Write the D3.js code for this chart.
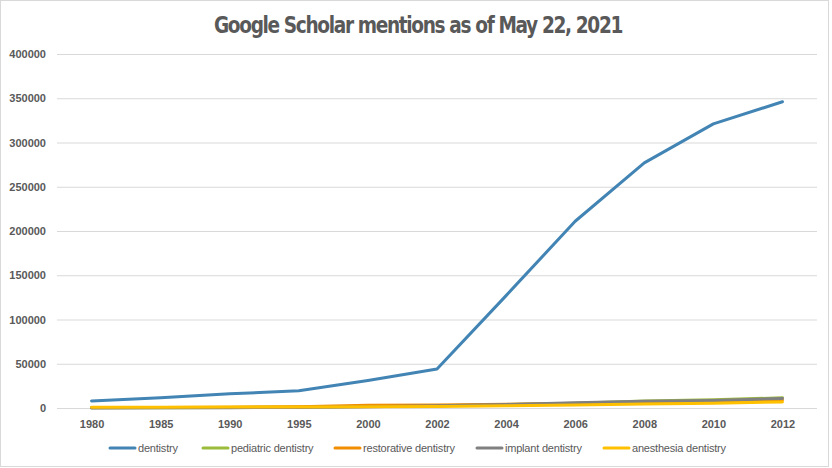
<!DOCTYPE html>
<html>
<head>
<meta charset="utf-8">
<script src="https://cdn.jsdelivr.net/npm/d3@7"></script>
<style>
  body { margin: 0; background: #fff; }
  text { font-family: "Liberation Sans", Arial, sans-serif; fill: #595959; }
</style>
</head>
<body>
<svg id="chart" width="832" height="468"></svg>
<script>
// chart data
var years = ["1980", "1985", "1990", "1995", "2000", "2002", "2004", "2006", "2008", "2010", "2012"];
var seriesNames = ["dentistry", "pediatric dentistry", "restorative dentistry", "implant dentistry", "anesthesia dentistry"];
var seriesColors = ["#4284b4", "#9bbb3b", "#f18d00", "#808080", "#ffc000"];
var dentistry = [8000, 11500, 16000, 19500, 31000, 44000, 127000, 211000, 277000, 321000, 346000];
var pediatric = [300, 400, 600, 1000, 1800, 2500, 3800, 5500, 7800, 9200, 11500];
var restorative = [500, 600, 800, 1500, 3000, 3500, 4200, 5000, 6500, 7500, 9000];
var implant = [100, 150, 300, 700, 1500, 2500, 4000, 5800, 7500, 8500, 10800];
var anesthesia = [800, 900, 1000, 1200, 1500, 1800, 2500, 3300, 4500, 5500, 6800];
var yTicks = [0, 50000, 100000, 150000, 200000, 250000, 300000, 350000, 400000];

var allSeries = [dentistry, pediatric, restorative, implant, anesthesia];

var svg = d3.select("#chart");
var W = 832, H = 468;
var plot = {left: 57, right: 817, top: 54, bottom: 408};

// outer chart border
svg.append("rect")
	.attr("x", 0.5).attr("y", 0.5)
	.attr("width", W - 4).attr("height", H - 2)
	.attr("fill", "#fff")
	.attr("stroke", "#d9d9d9");

var x = d3.scalePoint()
	.domain(years)
	.range([plot.left, plot.right])
	.padding(0.5);

var y = d3.scaleLinear()
	.domain([0, 400000])
	.range([plot.bottom, plot.top]);

// gridlines + y labels
var yAxis = d3.axisLeft(y)
	.tickValues(yTicks)
	.tickSize(-(plot.right - plot.left))
	.tickPadding(11)
	.tickFormat(d3.format("d"));
var gy = svg.append("g")
	.attr("transform", "translate(" + plot.left + ",0)")
	.call(yAxis);
gy.select(".domain").remove();
gy.selectAll(".tick line").attr("stroke", "#d9d9d9");
gy.selectAll(".tick text")
	.style("font-family", "Liberation Sans, Arial, sans-serif")
	.style("font-size", "11px")
	.style("font-weight", "bold")
	.attr("fill", "#595959");

// x labels
var xAxis = d3.axisBottom(x).tickSize(0).tickPadding(12);
var gx = svg.append("g")
	.attr("transform", "translate(0," + plot.bottom + ")")
	.call(xAxis);
gx.select(".domain").remove();
gx.selectAll(".tick text")
	.style("font-family", "Liberation Sans, Arial, sans-serif")
	.style("font-size", "11px")
	.style("font-weight", "bold")
	.attr("fill", "#595959");

// lines
var line = d3.line()
	.x(function(d, i) { return x(years[i]); })
	.y(function(d) { return y(d); });

svg.selectAll(".series")
	.data(allSeries)
	.enter()
	.append("path")
	.classed("series", true)
	.attr("d", line)
	.attr("fill", "none")
	.attr("stroke", function(d, i) { return seriesColors[i]; })
	.attr("stroke-width", 3)
	.attr("stroke-linejoin", "round")
	.attr("stroke-linecap", "round");

// title
svg.append("text")
	.attr("x", 418)
	.attr("y", 33)
	.attr("text-anchor", "middle")
	.attr("textLength", 408)
	.attr("lengthAdjust", "spacingAndGlyphs")
	.style("font-family", "'DejaVu Sans Condensed', 'Liberation Sans', Arial, sans-serif")
	.style("font-size", "23px")
	.style("font-weight", "bold")
	.style("letter-spacing", "-1.5px")
	.attr("fill", "#595959")
	.text("Google Scholar mentions as of May 22, 2021");

// legend
var legendX = [110, 203, 335, 477, 604];
var legend = svg.selectAll(".legend-item")
	.data(seriesNames)
	.enter()
	.append("g")
	.classed("legend-item", true)
	.attr("transform", function(d, i) { return "translate(" + legendX[i] + ",448)"; });

legend.append("line")
	.attr("x1", 0).attr("x2", 25)
	.attr("y1", 0).attr("y2", 0)
	.attr("stroke", function(d, i) { return seriesColors[i]; })
	.attr("stroke-width", 3)
	.attr("stroke-linecap", "round");

legend.append("text")
	.attr("x", 28)
	.attr("y", 4)
	.style("font-family", "'Liberation Sans', Arial, sans-serif")
	.style("font-size", "11px")
	.style("letter-spacing", "-0.2px")
	.attr("fill", "#595959")
	.text(function(d) { return d; });
</script>
</body>
</html>
